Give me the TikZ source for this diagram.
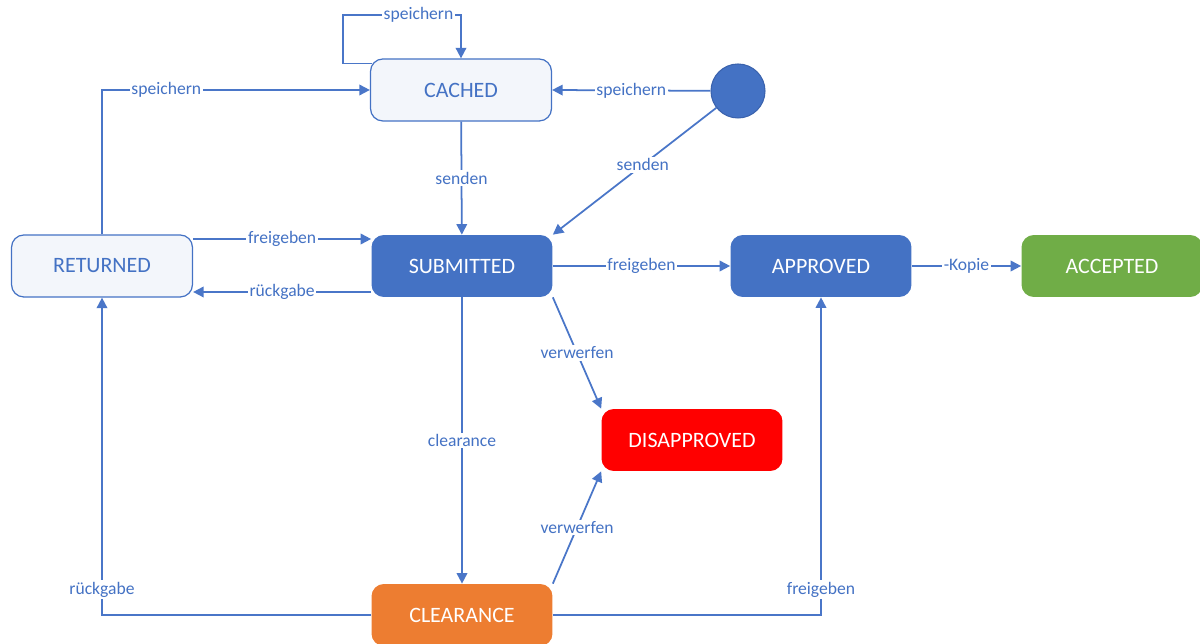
\documentclass[tikz,border=0pt]{standalone}
\usepackage{fontspec}
\setmainfont{Carlito}
\usepackage{xcolor}
\usetikzlibrary{positioning, arrows.meta}
\definecolor{stateblue}{HTML}{4472C4}
\definecolor{linkblue}{HTML}{4A76C8}
\definecolor{palestate}{HTML}{F3F6FB}
\definecolor{acceptgreen}{HTML}{70AD47}
\definecolor{clearorange}{HTML}{ED7D31}
\definecolor{rejectred}{HTML}{FF0000}
\definecolor{startrim}{HTML}{3A62AD}

\tikzset{
  statebox/.style={rounded corners=7pt, minimum width=3.62cm, minimum height=1.24cm,
                   inner sep=0pt, font=\fontsize{12.5}{14}\selectfont},
  openstate/.style={statebox, draw=stateblue, line width=0.7pt, fill=palestate, text=stateblue},
  fullstate/.style={statebox, fill=#1, text=white},
  trans/.style={draw=linkblue, line width=1pt, -{Triangle[length=6pt,width=6pt]}},
  lbl/.style={fill=white, inner sep=1pt, text=stateblue, font=\fontsize{10}{12}\selectfont},
}

\begin{document}
\begin{tikzpicture}[x=0.02cm, y=-0.02cm]
    \useasboundingbox (0,0) rectangle (1200,644);

    % states
    \node[openstate] (cached) at (461,90) {CACHED};
    \node[openstate] (returned) at (102,266) {RETURNED};
    \node[fullstate=stateblue] (submitted) at (462,266) {SUBMITTED};
    \node[fullstate=stateblue] (approved) at (821,266) {APPROVED};
    \node[fullstate=acceptgreen] (accepted) at (1112,266) {ACCEPTED};
    \node[fullstate=rejectred] (disapproved) at (692,440) {DISAPPROVED};
    \node[fullstate=clearorange] (clearance) at (462,615) {CLEARANCE};
    \node[circle, fill=stateblue, draw=startrim, line width=0.6pt,
          minimum size=1.08cm, inner sep=0pt] (start) at (738,91) {};
    \coordinate (looptop) at (343,15);

    % transitions
    \draw[trans] ([xshift=0.05cm,yshift=-0.1cm]cached.north west) -| (looptop)
        -| node[lbl, pos=0.32] {speichern} (cached.north);
    \draw[trans] (returned.north) |- node[lbl, pos=0.62] {speichern} (cached.west);
    \draw[trans] (start) -- node[lbl] {speichern} (cached.east);
    \draw[trans] (start) -- node[lbl, pos=0.45] {senden} (submitted.north east);
    \draw[trans] (cached) -- node[lbl] {senden} (submitted);
    \draw[trans] ([yshift=0.54cm]returned.east) -- node[lbl] {freigeben} ([yshift=0.54cm]submitted.west);
    \draw[trans] ([yshift=-0.52cm]submitted.west) -- node[lbl] {rückgabe} ([yshift=-0.52cm]returned.east);
    \draw[trans] (submitted) -- node[lbl] {freigeben} (approved);
    \draw[trans] (approved) -- node[lbl] {-Kopie} (accepted);
    \draw[trans] (submitted.south east) -- node[lbl] {verwerfen} (disapproved.north west);
    \draw[trans] (submitted) -- node[lbl] {clearance} (clearance);
    \draw[trans] (clearance.north east) -- node[lbl] {verwerfen} (disapproved.south west);
    \draw[trans] (clearance.west) -| node[lbl, pos=0.54] {rückgabe} (returned.south);
    \draw[trans] (clearance.east) -| node[lbl, pos=0.54] {freigeben} (approved.south);
\end{tikzpicture}
\end{document}
